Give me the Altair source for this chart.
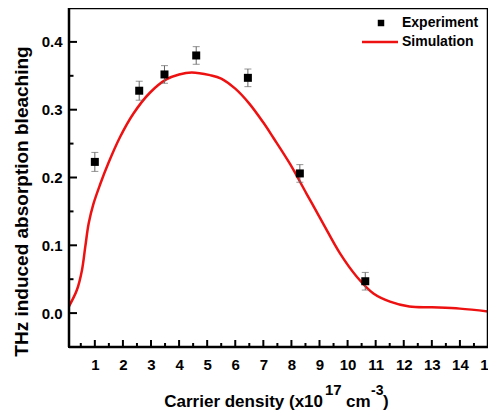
import altair as alt
import pandas as pd

# Experiment data
exp_x = [1.0, 2.58, 3.48, 4.61, 6.45, 8.30, 10.63]
exp_y = [0.223, 0.328, 0.352, 0.380, 0.347, 0.206, 0.047]
exp_err = [0.014, 0.014, 0.013, 0.013, 0.013, 0.013, 0.013]

# Simulation curve
sim_x = [0.08, 0.36, 0.54, 0.66, 0.78, 0.95, 1.19, 1.48, 1.89, 2.37, 2.96, 3.56, 4.0, 4.45,
         5.10, 5.5, 6.0, 6.5, 7.0, 7.35, 7.95, 8.54, 9.13, 9.73, 10.32, 10.92, 11.51, 12.2, 13.0, 14.0, 15.0]
sim_y = [0.010, 0.034, 0.063, 0.098, 0.132, 0.161, 0.190, 0.221, 0.259, 0.294, 0.325, 0.345, 0.352, 0.355,
         0.351, 0.346, 0.331, 0.309, 0.281, 0.259, 0.220, 0.176, 0.132, 0.088, 0.054, 0.029, 0.017,
         0.0097, 0.0085, 0.0066, 0.0024]

x_major = list(range(1, 16))
x_minor = [i + 0.5 for i in range(0, 15)]
y_major = [0.0, 0.1, 0.2, 0.3, 0.4]
y_minor = [0.05, 0.15, 0.25, 0.35]

legend_labels = ["Experiment", "Simulation"]

FONT = "Liberation Sans"
W, H = 419, 339
XDOM = [0.08, 15]
YDOM = [-0.05, 0.45]

exp_df = pd.DataFrame({"x": exp_x, "y": exp_y,
                       "lo": [a - b for a, b in zip(exp_y, exp_err)],
                       "hi": [a + b for a, b in zip(exp_y, exp_err)]})
sim_df = pd.DataFrame({"x": sim_x, "y": sim_y})

xs = alt.Scale(domain=XDOM, nice=False, zero=False)
ys = alt.Scale(domain=YDOM, nice=False, zero=False)

xaxis = alt.Axis(values=x_major, format="d", title=None, ticks=False, tickSize=0, domain=False,
                 grid=False, labelFont=FONT, labelFontWeight="bold", labelFontSize=15,
                 labelColor="black", labelPadding=10, labelOverlap=False, labelFlush=False)
yaxis = alt.Axis(values=y_major, format=".1f", title="THz induced absorption bleaching", ticks=False,
                 tickSize=0, domain=False, grid=False, labelFont=FONT, labelFontWeight="bold",
                 labelFontSize=15, labelColor="black", labelPadding=7, labelOverlap=False,
                 labelFlush=False,
                 titleFont=FONT, titleFontWeight="bold", titleFontSize=19, titleColor="black",
                 titleX=-48, titleY=193, titleBaseline="middle", titleAngle=-90, titleAlign="center")


def X(f):
    return alt.X(f, type="quantitative", scale=xs, axis=xaxis)


def Y(f):
    return alt.Y(f, type="quantitative", scale=ys, axis=yaxis)


curve = alt.Chart(sim_df).mark_line(color="#ee1111", strokeWidth=2.5, interpolate="catmull-rom").encode(
    x=X("x"), y=Y("y"))

err_rule = alt.Chart(exp_df).mark_rule(color="#666666", strokeWidth=1).encode(
    x=X("x"), y=Y("lo"), y2="hi:Q")
err_lo = alt.Chart(exp_df).mark_tick(color="#666666", thickness=1, size=7, orient="horizontal").encode(
    x=X("x"), y=Y("lo"))
err_hi = alt.Chart(exp_df).mark_tick(color="#666666", thickness=1, size=7, orient="horizontal").encode(
    x=X("x"), y=Y("hi"))
pts = alt.Chart(exp_df).mark_square(color="black", size=64, opacity=1).encode(
    x=X("x"), y=Y("y"))

# inward ticks
xmaj = alt.Chart(pd.DataFrame({"x": x_major})).mark_rule(color="black", strokeWidth=2).encode(
    x=X("x"), y=alt.value(H), y2=alt.value(H - 7))
xmin = alt.Chart(pd.DataFrame({"x": x_minor})).mark_rule(color="black", strokeWidth=2).encode(
    x=X("x"), y=alt.value(H), y2=alt.value(H - 4))
ymaj = alt.Chart(pd.DataFrame({"y": y_major})).mark_rule(color="black", strokeWidth=2).encode(
    y=Y("y"), x=alt.value(0), x2=alt.value(8))
ymin = alt.Chart(pd.DataFrame({"y": y_minor})).mark_rule(color="black", strokeWidth=2).encode(
    y=Y("y"), x=alt.value(0), x2=alt.value(4.5))

one = pd.DataFrame({"a": [0]})

# frame
frame = [
    alt.Chart(one).mark_rule(color="black", strokeWidth=2.5).encode(x=alt.value(0), x2=alt.value(W), y=alt.value(0)),
    alt.Chart(one).mark_rule(color="black", strokeWidth=2.5).encode(x=alt.value(0), x2=alt.value(W), y=alt.value(H)),
    alt.Chart(one).mark_rule(color="black", strokeWidth=2.5).encode(x=alt.value(0), y=alt.value(0), y2=alt.value(H)),
    alt.Chart(one).mark_rule(color="black", strokeWidth=2.5).encode(x=alt.value(W), y=alt.value(0), y2=alt.value(H)),
]

# legend
leg_sq = alt.Chart(one).mark_square(color="black", size=42, opacity=1).encode(
    x=alt.value(312), y=alt.value(15))
leg_ln = alt.Chart(one).mark_rule(color="#ee1111", strokeWidth=2.5).encode(
    x=alt.value(293), x2=alt.value(329), y=alt.value(34))
leg_t1 = alt.Chart(one).mark_text(text=legend_labels[0], font=FONT, fontWeight="bold", fontSize=14,
                                  align="left", baseline="middle", color="black").encode(
    x=alt.value(333), y=alt.value(15))
leg_t2 = alt.Chart(one).mark_text(text=legend_labels[1], font=FONT, fontWeight="bold", fontSize=14,
                                  align="left", baseline="middle", color="black").encode(
    x=alt.value(333), y=alt.value(34))

# x title with superscripts
def txt(s, x, y, size, align="left"):
    return alt.Chart(one).mark_text(text=s, font=FONT, fontWeight="bold", fontSize=size,
                                    align=align, baseline="alphabetic", color="black").encode(
        x=alt.value(x), y=alt.value(y))

xt = [
    txt("Carrier density (x10", 254, 399, 17, "right"),
    txt("17", 256, 387, 15),
    txt("cm", 277, 399, 17),
    txt("-3", 302, 387, 14),
    txt(")", 314, 399, 17),
]

chart = alt.layer(curve, err_rule, err_lo, err_hi, pts, xmaj, xmin, ymaj, ymin, *frame,
                  leg_sq, leg_ln, leg_t1, leg_t2, *xt).properties(
    width=W, height=H,
    background="white",
    autosize=alt.AutoSizeParams(type="none"),
    padding={"left": 61, "top": 0, "right": 0, "bottom": 67},
).configure_view(stroke="black", strokeWidth=2).configure_axis(labelOverlap=False)

chart.save("out.html", embed_options={"renderer": "svg", "actions": False})
